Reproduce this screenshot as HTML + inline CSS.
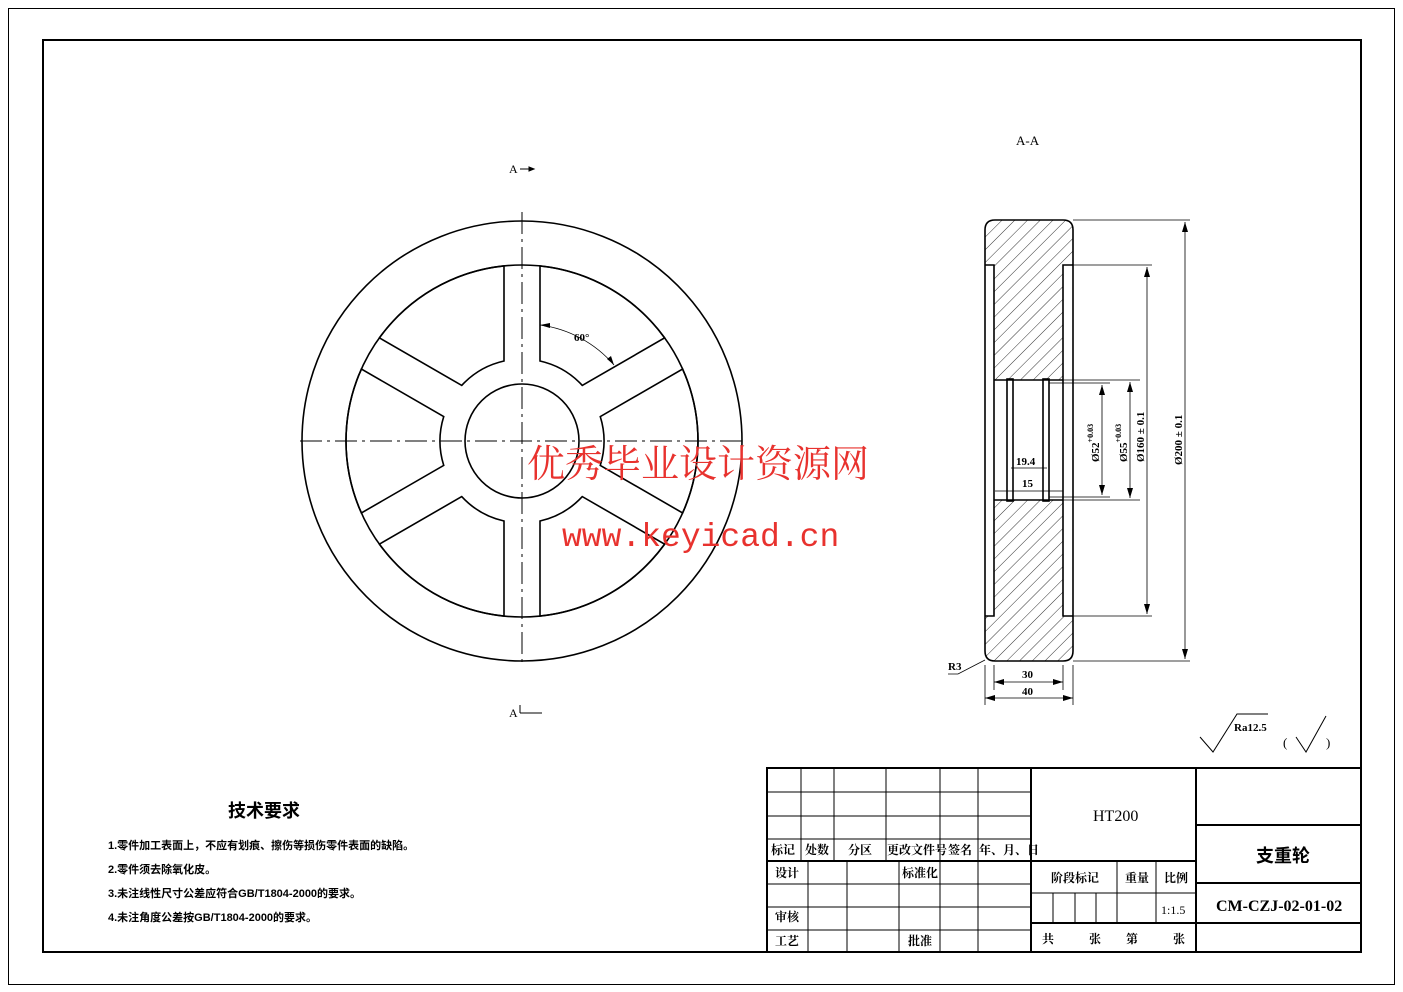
<!DOCTYPE html>
<html><head><meta charset="utf-8"><style>
html,body{margin:0;padding:0;background:#fff}
svg{display:block}
text{font-family:"Liberation Serif","Noto Serif CJK SC","Noto Sans CJK SC",serif;fill:#000}
.c{font-family:"Liberation Sans","Noto Sans CJK SC",sans-serif;font-weight:bold}
</style></head><body>
<svg id="s" width="1403" height="992" viewBox="0 0 1403 992" xmlns="http://www.w3.org/2000/svg">
<defs>
<pattern id="h" patternUnits="userSpaceOnUse" width="9" height="9" patternTransform="rotate(45)">
<line x1="0" y1="0" x2="0" y2="9" stroke="#000" stroke-width="0.8"/>
</pattern>
</defs>
<rect x="8.5" y="8.5" width="1386" height="976" fill="none" stroke="#000" stroke-width="1"/>
<rect x="43" y="40" width="1318" height="912" fill="none" stroke="#000" stroke-width="2"/>

<!-- wheel front view -->
<g fill="none" stroke="#000" stroke-width="1.6">
<circle cx="522" cy="441" r="220"/>
<circle cx="522" cy="441" r="176"/>
<circle cx="522" cy="441" r="57"/>
<g id="win"></g>
</g>
<g stroke="#000" stroke-width="1" stroke-dasharray="22,5,3,5">
<line x1="522" y1="212" x2="522" y2="665"/>
<line x1="300" y1="441" x2="746" y2="441"/>
</g>
<!-- 60 deg -->
<path d="M540 325 A118 118 0 0 1 614 365" fill="none" stroke="#000" stroke-width="0.8"/>
<path d="M540 325 l10 -2 v5z M614 365 l-3 -9 l-4 3z" fill="#000"/>
<text x="574" y="341" font-size="11" font-weight="bold">60°</text>
<!-- section markers -->
<text x="509" y="173" font-size="12">A</text>
<path d="M520 169 H534 M534 169 l-5 -2 v4z" stroke="#000" fill="#000" stroke-width="1"/>
<text x="509" y="717" font-size="12">A</text>
<path d="M520 713 H542 M520 713 v-8" stroke="#000" fill="none" stroke-width="1"/>
<text x="1016" y="145" font-size="13">A-A</text>

<!-- section view -->
<g stroke="none" fill="url(#h)">
<path d="M985 230 Q985 220 995 220 H1063 Q1073 220 1073 230 V265 H1063 V380 H994 V265 H985Z"/>
<path d="M994 500 H1063 V616 H1073 V651 Q1073 661 1063 661 H995 Q985 661 985 651 V616 H994Z"/>
</g>
<g fill="none" stroke="#000" stroke-width="1.6">
<path d="M995 220 H1063 Q1073 220 1073 230 V651 Q1073 661 1063 661 H995 Q985 661 985 651 V230 Q985 220 995 220Z"/>
<path d="M985 265 H994 V616 H985 M1073 265 H1063 V616 H1073"/>
<path d="M994 380 H1063 M994 500 H1063"/>
<rect x="1007" y="379" width="6" height="122"/>
<rect x="1043" y="379" width="6" height="122"/>
</g>
<g stroke="#000" stroke-width="0.8" fill="none">
<path d="M1073 220 H1190 M1073 661 H1190 M1073 265 H1152 M1073 616 H1152 M1049 380 H1140 M1049 500 H1140 M1049 383 H1110 M1049 497 H1110"/>
<path d="M1185 222 V659 M1147 267 V614 M1130 382 V498 M1102 385 V495"/>
<path d="M1011 468 H1047 M995 491 H1063"/>
<path d="M985 665 V705 M1073 665 V705 M994 665 V690 M1063 665 V690 M994 682 H1063 M985 698 H1073"/>
<path d="M948 674 L958 674 L985 660"/>
</g>
<g fill="#000">
<path d="M1185 222 l-3 10 h6z M1185 659 l-3 -10 h6z M1147 267 l-3 10 h6z M1147 614 l-3 -10 h6z M1130 382 l-3 10 h6z M1130 498 l-3 -10 h6z M1102 385 l-3 10 h6z M1102 495 l-3 -10 h6z"/>
<path d="M994 682 l10 -3 v6z M1063 682 l-10 -3 v6z M985 698 l10 -3 v6z M1073 698 l-10 -3 v6z"/>
</g>
<g font-size="11" font-weight="bold">
<text transform="translate(1182 465) rotate(-90)">Ø200 ± 0.1</text>
<text transform="translate(1144 462) rotate(-90)">Ø160 ± 0.1</text>
<text transform="translate(1127 462) rotate(-90)">Ø55<tspan dy="-6" font-size="8">+0.03</tspan></text>
<text transform="translate(1099 462) rotate(-90)">Ø52<tspan dy="-6" font-size="8">+0.03</tspan></text>
<text x="1016" y="465">19.4</text>
<text x="1022" y="487">15</text>
<text x="1022" y="678">30</text>
<text x="1022" y="695">40</text>
<text x="948" y="670">R3</text>
</g>

<!-- roughness -->
<path d="M1200 737 L1213 752 L1237 714 H1268" fill="none" stroke="#000" stroke-width="1"/>
<text x="1234" y="731" font-size="11" font-weight="bold">Ra12.5</text>
<text x="1283" y="747" font-size="13">(</text>
<path d="M1296 737 L1306 752 L1326 716" fill="none" stroke="#000" stroke-width="1"/>
<text x="1326" y="747" font-size="13">)</text>

<!-- watermark -->
<text x="527" y="477" font-size="38" style="fill:#e8322e;font-family:'Noto Serif CJK SC','Noto Sans CJK SC',serif">优秀毕业设计资源网</text>
<text x="562" y="546" font-size="33" style="fill:#e8322e;font-family:'Liberation Mono',monospace">www.keyicad.cn</text>

<!-- technical requirements -->
<text x="228" y="817" font-size="18" class="c">技术要求</text>
<g font-size="11" class="c">
<text x="108" y="849" class="c">1.零件加工表面上，不应有划痕、擦伤等损伤零件表面的缺陷。</text>
<text x="108" y="873" class="c">2.零件须去除氧化皮。</text>
<text x="108" y="897" class="c">3.未注线性尺寸公差应符合GB/T1804-2000的要求。</text>
<text x="108" y="921" class="c">4.未注角度公差按GB/T1804-2000的要求。</text>
</g>

<!-- title block -->
<g fill="none" stroke="#000" stroke-width="1">
<rect x="767" y="768" width="594" height="184" stroke-width="2"/>
<path d="M767 792 H1031 M767 816 H1031 M767 839 H1031 M767 884 H1031 M767 907 H1031 M767 930 H1031" />
<path d="M767 861 H1031 M1031 768 V952 M1196 768 V952" stroke-width="2"/>
<path d="M801 768 V861 M834 768 V861 M886 768 V861 M940 768 V861 M978 768 V861"/>
<path d="M808 861 V952 M847 861 V952 M899 861 V952 M940 861 V952 M978 861 V952"/>
<path d="M1031 861 H1196 M1031 923 H1196 M1196 825 H1361 M1196 883 H1361 M1196 923 H1361" stroke-width="2"/>
<path d="M1031 893 H1196 M1117 861 V923 M1156 861 V923 M1053 893 V923 M1075 893 V923 M1096 893 V923"/>
</g>
<g font-size="12" class="c">
<text x="771" y="854">标记</text><text x="805" y="854">处数</text><text x="848" y="854">分区</text>
<text x="887" y="854">更改文件号</text><text x="948" y="854">签名</text><text x="979" y="854">年、月、日</text>
<text x="775" y="877">设计</text><text x="902" y="877">标准化</text>
<text x="775" y="921">审核</text><text x="775" y="945">工艺</text><text x="908" y="945">批准</text>
<text x="1051" y="882">阶段标记</text><text x="1125" y="882">重量</text><text x="1164" y="882">比例</text>
<text x="1161" y="914" font-weight="normal">1:1.5</text>
<text x="1042" y="943">共</text><text x="1089" y="943">张</text><text x="1126" y="943">第</text><text x="1173" y="943">张</text>
</g>
<text x="1093" y="821" font-size="16">HT200</text>
<text x="1256" y="862" font-size="18" class="c">支重轮</text>
<text x="1216" y="911" font-size="16" font-weight="bold">CM-CZJ-02-01-02</text>
</svg>
<script>
(function(){
var cx=522,cy=441,R=176,r=82,h=18,out=[];
var sp=[30,90,150,210,270,330];
function P(a,t,s){var u=[Math.cos(a),-Math.sin(a)],n=[-Math.sin(a)*s,-Math.cos(a)*s];
 return [cx+u[0]*t+n[0]*h, cy+u[1]*t+n[1]*h];}
for(var i=0;i<6;i++){
 var a1=sp[i]*Math.PI/180,a2=(sp[i]+60)*Math.PI/180;
 var to=Math.sqrt(R*R-h*h),ti=Math.sqrt(r*r-h*h);
 var p1i=P(a1,ti,1),p1o=P(a1,to,1),p2o=P(a2,to,-1),p2i=P(a2,ti,-1);
 out.push('<path d="M'+p1i+' L'+p1o+' A'+R+' '+R+' 0 0 0 '+p2o+' L'+p2i+' A'+r+' '+r+' 0 0 1 '+p1i+'Z"/>');
}
document.getElementById('win').innerHTML=out.join('');
})();
</script>
</body></html>
